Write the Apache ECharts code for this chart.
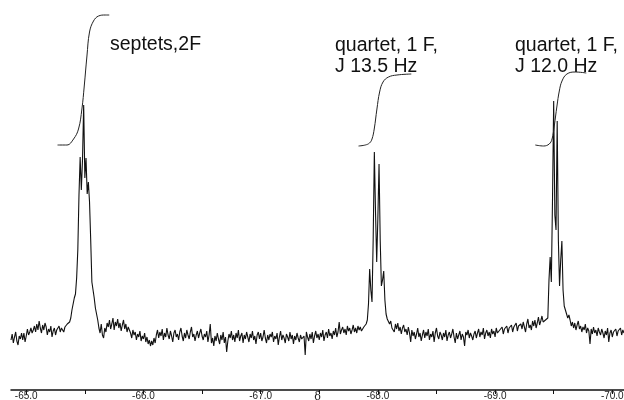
<!DOCTYPE html>
<html>
<head>
<meta charset="utf-8">
<script src="https://cdn.jsdelivr.net/npm/echarts@6/dist/echarts.min.js"></script>
<style>
  html, body { margin: 0; padding: 0; background: #fff; }
  #chart1 { width: 624px; height: 400px; }
</style>
</head>
<body>
<div id="chart1"></div>
<script>
// 19F NMR trace, sampled every 0.01 ppm (values = height above the axis line)
var step = -0.01;

var baseA = [
  50, 56, 47, 53, 58, 49, 45, 54, 51, 57,
  50, 57, 48, 54, 61, 55, 58, 62, 57, 60,
  64, 58, 66, 60, 69, 62, 57, 65, 60, 67,
  63, 55, 61, 58, 64, 53, 59, 62, 55, 60,
  60, 64, 58, 62
];
var peak1 = [
  60, 58, 63, 61, 66, 64, 68, 72, 80, 86,
  92, 96, 112, 140, 195, 233, 200, 230, 285, 212,
  232, 196, 208, 188, 150, 108, 100, 92, 82, 76,
  70, 62, 57, 66, 55, 52, 62, 58, 67
];
var baseB = [
  63, 70, 61, 66, 72, 60, 68, 64, 71, 62,
  67, 59, 65, 70, 61, 66, 58, 63, 60, 57,
  52, 60, 55, 58, 50, 56, 53, 59, 49, 54,
  51, 57, 48, 53, 46, 50, 44, 49, 45, 52,
  47, 55, 60, 52, 58, 54, 61, 50, 57, 53,
  62, 55, 51, 59, 54, 48, 57, 60, 53, 56,
  50, 58, 62, 54, 49, 57, 52, 60, 55, 51,
  58, 63, 53, 56, 49, 55, 59, 52, 57, 61,
  54, 50, 56, 53, 59, 48, 55, 66, 47, 52,
  44, 54, 49, 57, 51, 46, 55, 50, 58, 47,
  53, 38, 49, 56, 52, 59, 50, 55, 48, 57,
  52, 60, 49, 54, 57, 47, 55, 51, 58, 53,
  48, 56, 52, 59, 50, 54, 46, 55, 58, 51,
  57, 49, 53, 60, 52, 47, 55, 50, 56, 53,
  58, 48, 54, 51, 57, 45, 53, 59, 50, 55,
  52, 47, 56, 53, 49, 58, 51, 55, 46, 54,
  50, 57, 52, 48, 55, 51, 49, 54, 35, 58,
  53, 49, 56, 51, 58, 47, 54, 59, 52, 56,
  50, 57, 53, 60, 49, 55, 58, 52, 61, 54,
  57, 51, 59, 55, 62, 53, 58, 68, 56, 60,
  63, 57, 61, 55, 64, 59, 62, 56, 60, 65,
  58, 62, 57, 64, 60, 63, 59
];
var peak2 = [
  60, 63, 62, 66, 70, 86, 121, 100, 88, 150,
  238, 178, 128, 172, 226, 150, 104, 110, 119, 90,
  76, 71, 72, 66, 69, 62
];
var baseC = [
  64, 58, 66, 61, 67, 59, 63, 56, 62, 65,
  58, 61, 55, 63, 57, 48, 60, 54, 58, 51,
  56, 62, 53, 57, 49, 55, 60, 52, 58, 54,
  61, 50, 56, 53, 59, 48, 57, 62, 54, 51,
  58, 55, 50, 57, 53, 60, 49, 55, 58, 52,
  56, 61, 53, 47, 57, 51, 55, 59, 50, 56,
  53, 44, 58, 55, 60, 52, 57, 54, 50, 56,
  59, 52, 57, 61, 53, 58, 55, 62, 51, 57,
  60, 54, 58, 52, 61, 56, 59, 53, 62, 57,
  55, 60, 58, 63, 56, 61, 59, 64, 57, 62,
  60, 65, 58, 63, 61, 67, 59, 64, 62, 66,
  61, 68, 63, 58, 66, 71, 62, 65, 60, 69,
  64, 70, 62, 67, 73, 65, 69, 74, 68
];
var peak3 = [
  66, 70, 68, 72, 110, 133, 108, 190, 289, 175,
  160, 269, 150, 104, 130, 149, 100, 84, 80, 76,
  72, 75
];
var baseD = [
  70, 64, 68, 62, 67, 60, 65, 69, 61, 64,
  58, 63, 60, 66, 57, 62, 59, 46, 61, 56,
  63, 57, 60, 54, 62, 58, 55, 61, 57, 52,
  59, 55, 62, 48, 57, 60, 53, 58, 56, 61,
  54, 59, 57, 62, 55, 60, 57
];
// start shift (ppm) of each block
var blocks = [
  [-64.87, baseA], [-65.31, peak1], [-65.70, baseB],
  [-67.87, peak2], [-68.13, baseC], [-69.42, peak3], [-69.64, baseD]
];

// integral curves [ppm, height]
var integral1 = [[-65.267,245],[-65.347,245],[-65.404,251],[-65.446,261],[-65.475,281],[-65.495,304],
  [-65.518,334],[-65.540,358],[-65.574,369],[-65.617,374],[-65.674,375],[-65.708,375]];
var integral2 = [[-67.835,244],[-67.893,245],[-67.929,247],[-67.950,251],[-67.969,261],[-67.992,281],
  [-68.015,298],[-68.044,308],[-68.091,313],[-68.163,315],[-68.285,316]];
var integral3 = [[-69.343,245],[-69.414,244],[-69.462,246],[-69.486,251],[-69.505,264],[-69.528,284],
  [-69.548,299],[-69.571,309],[-69.613,316],[-69.684,318],[-69.778,317]];

var tickValues = [-65, -65.5, -66, -66.5, -67, -67.5, -68, -68.5, -69, -69.5, -70];
var labelValues = [-65, -66, -67, -68, -69, -70];

var spectrum = [];
blocks.forEach(function (b) {
  b[1].forEach(function (v, i) {
    spectrum.push([+(b[0] + i * step).toFixed(3), v]);
  });
});

var chart = echarts.init(document.getElementById('chart1'));
var font = 'Liberation Sans, Arial, sans-serif';
var option = {
  animation: false,
  grid: { left: 11, right: 0, top: 0, bottom: 10, containLabel: false, outerBoundsMode: 'none' },
  xAxis: {
    type: 'value',
    min: -70.1,
    max: -64.87,
    inverse: true,
    name: 'δ',
    nameLocation: 'middle',
    nameGap: 2,
    nameMoveOverlap: false,
    nameTextStyle: { color: '#222', fontSize: 11, fontFamily: 'DejaVu Serif' },
    axisLine: { lineStyle: { color: '#111', width: 1.5 } },
    axisTick: { customValues: tickValues, length: 4, lineStyle: { color: '#111' } },
    axisLabel: {
      customValues: labelValues,
      formatter: function (v) { return v.toFixed(1); },
      color: '#222',
      fontSize: 10,
      fontFamily: font,
      margin: 1
    },
    splitLine: { show: false }
  },
  yAxis: { type: 'value', min: 0, max: 390, show: false },
  series: [
    {
      type: 'line', data: spectrum, symbol: 'none',
      lineStyle: { color: '#111', width: 1.1 }
    },
    { type: 'line', data: integral1, symbol: 'none', smooth: 0.4, lineStyle: { color: '#222', width: 1 } },
    { type: 'line', data: integral2, symbol: 'none', smooth: 0.4, lineStyle: { color: '#222', width: 1 } },
    { type: 'line', data: integral3, symbol: 'none', smooth: 0.4, lineStyle: { color: '#222', width: 1 } }
  ],
  graphic: [
    { type: 'text', left: 110, top: 35, style: { text: 'septets,2F', font: '19.5px ' + font, fill: '#111' } },
    { type: 'text', left: 335, top: 35, style: { text: 'quartet, 1 F,\nJ 13.5 Hz', font: '19.5px ' + font, lineHeight: 21, fill: '#111' } },
    { type: 'text', left: 515, top: 35, style: { text: 'quartet, 1 F,\nJ 12.0 Hz', font: '19.5px ' + font, lineHeight: 21, fill: '#111' } }
  ]
};
chart.setOption(option);
</script>
</body>
</html>
